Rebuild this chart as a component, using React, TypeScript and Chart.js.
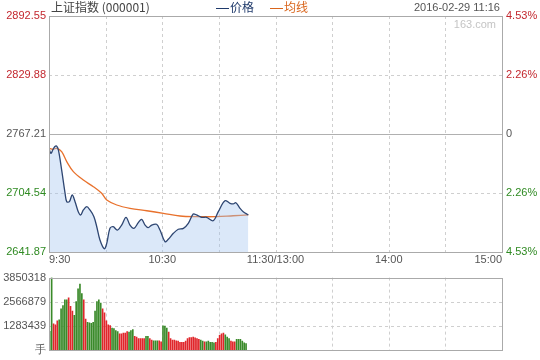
import React, { useEffect, useRef } from 'react';
import { Chart, registerables } from 'chart.js';

Chart.register(...registerables);

// ---- data ----
const PRICE_TICKS = [2641.87, 2704.54, 2767.21, 2829.88, 2892.55];
const PRICE_TICK_COLORS = ['#2f8a22', '#2f8a22', '#555555', '#c3272e', '#c3272e'];
const PCT_LABELS = ['4.53%', '2.26%', '0', '2.26%', '4.53%'];
const PRE_CLOSE = 2767.21;
const GRID_MINUTES = [0, 30, 60, 90, 120, 150, 180, 210, 240];
const TIME_LABEL_MINUTES = [0, 60, 120, 180, 240];
const TIME_LABELS = ['9:30', '10:30', '11:30/13:00', '14:00', '15:00'];

const PRICE_MINUTES = [
  0, 1, 2, 3, 4, 5, 6.7, 8.5, 9.4, 10.8, 12.3, 13.8, 15.5, 16.8, 18.2, 20, 21.7, 23.8,
  25.3, 27, 29.3, 30.6, 32.3, 34, 36.2, 38.5, 40.8, 42.9, 45, 47.3, 49.1, 50.9, 52.6,
  54.4, 57, 58.8, 61.5, 63.2, 65.9, 68.5, 71.2, 73.8, 76.4, 78.2, 80.9, 83.5, 87, 89.7,
  93.2, 95.9, 97.6, 99, 101.2, 102.9, 105.6,
];
const PRICE_VALUES = [
  2752.0, 2746.7, 2750.2, 2753.7, 2754.5, 2750.2, 2729.0, 2704.5, 2695.3, 2695.3, 2702.4,
  2695.3, 2684.7, 2681.2, 2686.5, 2690.0, 2686.5, 2679.4, 2668.7, 2654.6, 2645.3, 2651.1,
  2667.0, 2668.7, 2665.2, 2670.5, 2678.7, 2670.5, 2667.0, 2673.0, 2676.6, 2670.5, 2667.7,
  2670.5, 2671.3, 2665.2, 2652.8, 2655.4, 2661.7, 2666.0, 2667.0, 2672.4, 2682.2, 2681.2,
  2678.7, 2678.7, 2675.1, 2684.7, 2696.4, 2693.6, 2692.9, 2694.2, 2688.3, 2684.7, 2681.2,
];

const AVG_MINUTES = [0, 2, 4.1, 6.7, 9.4, 12.9, 18.2, 23.5, 27.9, 30.6, 35.9, 42.9, 51.8, 60.6, 69.4, 78.2, 88.8, 97.6, 105.6];
const AVG_VALUES = [
  2752.0, 2751.0, 2752.0, 2748.4, 2737.8, 2727.2, 2718.3, 2711.2, 2704.2, 2697.1, 2691.8,
  2688.3, 2685.7, 2683.0, 2680.1, 2679.4, 2679.4, 2680.4, 2681.2,
];

const VOLUME_VALUES = [
  1013000, 3850318, 1402000, 1351000, 1570000, 1621000, 2195000, 2364000, 2668000, 2668000,
  2786000, 2330000, 2077000, 1858000, 2584000, 3259000, 3512000, 3006000, 2668000, 1655000,
  1486000, 1452000, 1435000, 1486000, 2077000, 2584000, 2668000, 2499000, 2195000, 1993000,
  1570000, 1351000, 1317000, 1182000, 1148000,
  1047000, 996000, 878000, 878000, 912000, 912000, 996000, 963000, 1047000, 1098000,
  743000, 709000, 625000, 625000, 625000, 625000, 743000, 743000, 625000, 540000, 507000,
  507000, 507000, 507000, 456000,
  1300000, 1290000, 1180000,
  963000, 625000, 540000, 540000, 507000, 490000, 422000, 422000,
  422000, 490000, 625000, 675000, 675000, 709000, 659000, 625000, 591000, 540000, 490000,
  456000, 456000, 490000, 422000, 422000, 405000, 422000, 625000, 794000, 878000, 912000,
  827000, 709000, 625000, 490000, 456000, 456000, 591000, 591000, 591000, 490000, 405000,
  355000,
];
const VOLUME_DIRS = (
  'ggrrrggggg' + 'rrrgggggrr' + 'ggggggggrr' + 'rrrgg' + 'ggrrrrrggg' + 'rrrrrrggrrgggrr' +
  'ggg' + 'rrrrrrrr' + 'rrrrrrrrrggrgggggrrrrrgggrrrgggggg'
).split('');
const VOLUME_TICKS = [0, 1283439, 2566879, 3850318];
const VOLUME_TICK_LABELS = ['手', '1283439', '2566879', '3850318'];

// ---- styling ----
const RED = '#e0262b';
const GREEN = '#3a8a2a';
const TICK_FONT = { family: '"Liberation Sans", Arial, sans-serif', size: 11 };

function makeGridPlugin(dashedY: number[], solidY: number[]) {
  return {
    id: 'customGrid',
    beforeDatasetsDraw(chart: any) {
      const { ctx, chartArea: a } = chart;
      const xs = chart.scales.x;
      const ys = chart.scales.y;
      ctx.save();
      ctx.lineWidth = 1;
      ctx.strokeStyle = '#cfcfcf';
      ctx.setLineDash([3, 3]);
      ctx.beginPath();
      GRID_MINUTES.forEach((m) => {
        if (m === GRID_MINUTES[0] || m === GRID_MINUTES[GRID_MINUTES.length - 1]) return;
        const px = Math.round(xs.getPixelForValue(m)) + 0.5;
        ctx.moveTo(px, a.top);
        ctx.lineTo(px, a.bottom);
      });
      dashedY.forEach((v) => {
        const py = Math.round(ys.getPixelForValue(v)) + 0.5;
        ctx.moveTo(a.left, py);
        ctx.lineTo(a.right, py);
      });
      ctx.stroke();
      ctx.setLineDash([]);
      ctx.strokeStyle = '#b0b0b0';
      ctx.beginPath();
      solidY.forEach((v) => {
        const py = Math.round(ys.getPixelForValue(v)) + 0.5;
        ctx.moveTo(a.left, py);
        ctx.lineTo(a.right, py);
      });
      ctx.stroke();
      ctx.restore();
    },
    afterDatasetsDraw(chart: any) {
      const { ctx, chartArea: a } = chart;
      ctx.save();
      ctx.lineWidth = 1;
      ctx.strokeStyle = '#aaaaaa';
      const l = Math.round(a.left) + 0.5;
      const t = Math.round(a.top) + 0.5;
      const r = Math.round(a.right) + 0.5;
      const b = Math.round(a.bottom) + 0.5;
      ctx.strokeRect(l, t, r - l, b - t);
      ctx.restore();
    },
  };
}

export default function App() {
  const mainRef = useRef<HTMLCanvasElement>(null);
  const volRef = useRef<HTMLCanvasElement>(null);

  useEffect(() => {
    const priceMin = PRICE_TICKS[0];
    const priceMax = PRICE_TICKS[PRICE_TICKS.length - 1];
    const main = new Chart(mainRef.current as HTMLCanvasElement, {
      type: 'line',
      data: {
        datasets: [
          {
            label: '价格',
            data: PRICE_MINUTES.map((m, i) => ({ x: m, y: PRICE_VALUES[i] })),
            borderColor: '#2e4672',
            borderWidth: 1.3,
            backgroundColor: 'rgba(160,195,240,0.38)',
            fill: 'start',
            pointRadius: 0,
            tension: 0.35,
          },
          {
            label: '均线',
            data: AVG_MINUTES.map((m, i) => ({ x: m, y: AVG_VALUES[i] })),
            borderColor: '#e8712c',
            borderWidth: 1.3,
            fill: false,
            pointRadius: 0,
            tension: 0.35,
          },
        ],
      },
      options: {
        responsive: false,
        animation: false,
        layout: { padding: { top: 16, left: 0, right: 0, bottom: 0 } },
        plugins: { legend: { display: false }, tooltip: { enabled: false } },
        scales: {
          x: {
            type: 'linear',
            min: GRID_MINUTES[0],
            max: GRID_MINUTES[GRID_MINUTES.length - 1],
            grid: { display: false, drawTicks: false },
            border: { display: false },
            afterBuildTicks: (s: any) => {
              s.ticks = GRID_MINUTES.map((v) => ({ value: v }));
            },
            afterFit: (s: any) => {
              s.height = 16;
            },
            ticks: {
              autoSkip: false,
              maxRotation: 0,
              minRotation: 0,
              align: 'inner',
              padding: 1,
              color: '#555555',
              font: TICK_FONT,
              callback: (v: any) => {
                const k = TIME_LABEL_MINUTES.indexOf(Number(v));
                return k >= 0 ? TIME_LABELS[k] : '';
              },
            },
          },
          y: {
            type: 'linear',
            position: 'left',
            min: priceMin,
            max: priceMax,
            grid: { display: false, drawTicks: false },
            border: { display: false },
            afterBuildTicks: (s: any) => {
              s.ticks = PRICE_TICKS.map((v) => ({ value: v }));
            },
            afterFit: (s: any) => {
              s.width = 49;
            },
            ticks: {
              padding: 3,
              font: TICK_FONT,
              color: (c: any) => PRICE_TICK_COLORS[c.index] || '#555',
              callback: (v: any) => Number(v).toFixed(2),
            },
          },
          y2: {
            type: 'linear',
            position: 'right',
            min: priceMin,
            max: priceMax,
            grid: { display: false, drawTicks: false },
            border: { display: false },
            afterBuildTicks: (s: any) => {
              s.ticks = PRICE_TICKS.map((v) => ({ value: v }));
            },
            afterFit: (s: any) => {
              s.width = 38;
            },
            ticks: {
              padding: 4,
              font: TICK_FONT,
              color: (c: any) => PRICE_TICK_COLORS[c.index] || '#555',
              callback: (_v: any, i: number) => PCT_LABELS[i],
            },
          },
        },
      } as any,
      plugins: [makeGridPlugin([PRICE_TICKS[1], PRICE_TICKS[3]], [PRE_CLOSE])],
    });

    const vol = new Chart(volRef.current as HTMLCanvasElement, {
      type: 'bar',
      data: {
        datasets: [
          {
            label: '成交量',
            data: VOLUME_VALUES.map((v, i) => ({ x: i + 0.4, y: v })),
            backgroundColor: VOLUME_DIRS.map((d) => (d === 'r' ? RED : GREEN)),
            barThickness: 1,
            borderWidth: 0,
          },
        ],
      },
      options: {
        responsive: false,
        animation: false,
        layout: { padding: { top: 7, bottom: 9, right: 38, left: 0 } },
        plugins: { legend: { display: false }, tooltip: { enabled: false } },
        scales: {
          x: {
            type: 'linear',
            min: GRID_MINUTES[0],
            max: GRID_MINUTES[GRID_MINUTES.length - 1],
            display: false,
            offset: false,
          },
          y: {
            type: 'linear',
            position: 'left',
            min: VOLUME_TICKS[0],
            max: VOLUME_TICKS[VOLUME_TICKS.length - 1],
            grid: { display: false, drawTicks: false },
            border: { display: false },
            afterBuildTicks: (s: any) => {
              s.ticks = VOLUME_TICKS.map((v) => ({ value: v }));
            },
            afterFit: (s: any) => {
              s.width = 49;
            },
            ticks: {
              padding: 3,
              font: TICK_FONT,
              color: '#555555',
              callback: (_v: any, i: number) => VOLUME_TICK_LABELS[i],
            },
          },
        },
      } as any,
      plugins: [makeGridPlugin([VOLUME_TICKS[1], VOLUME_TICKS[2]], [])],
    });

    return () => {
      main.destroy();
      vol.destroy();
    };
  }, []);

  const cjk = '"Noto Sans CJK SC", sans-serif';
  const latin = '"Liberation Sans", Arial, sans-serif';
  const dash = (color: string) => (
    <span
      style={{
        display: 'inline-block',
        width: 13,
        height: 1,
        background: color,
        verticalAlign: 'middle',
        marginRight: 1,
        marginBottom: 1,
      }}
    />
  );

  return (
    <div
      style={{
        position: 'fixed',
        left: 0,
        top: 0,
        width: 540,
        height: 360,
        background: '#ffffff',
        overflow: 'hidden',
      }}
    >
      <canvas
        ref={mainRef}
        width={540}
        height={268}
        style={{ position: 'absolute', left: 0, top: 0, width: 540, height: 268 }}
      />
      <canvas
        ref={volRef}
        width={540}
        height={92}
        style={{ position: 'absolute', left: 0, top: 268, width: 540, height: 92 }}
      />
      <div
        style={{
          position: 'absolute',
          left: 51,
          top: 0,
          fontFamily: cjk,
          fontSize: 12,
          lineHeight: '14px',
          color: '#444444',
          whiteSpace: 'nowrap',
        }}
      >
        上证指数 (000001)
      </div>
      <div
        style={{
          position: 'absolute',
          left: 216,
          top: 0,
          fontFamily: cjk,
          fontSize: 12,
          lineHeight: '14px',
          color: '#1f3a6b',
          whiteSpace: 'nowrap',
        }}
      >
        {dash('#1f3a6b')}价格
      </div>
      <div
        style={{
          position: 'absolute',
          left: 270,
          top: 0,
          fontFamily: cjk,
          fontSize: 12,
          lineHeight: '14px',
          color: '#d9651c',
          whiteSpace: 'nowrap',
        }}
      >
        {dash('#d9651c')}均线
      </div>
      <div
        style={{
          position: 'absolute',
          right: 40,
          top: 0,
          fontFamily: latin,
          fontSize: 11,
          lineHeight: '14px',
          color: '#555555',
          whiteSpace: 'nowrap',
        }}
      >
        2016-02-29 11:16
      </div>
      <div
        style={{
          position: 'absolute',
          right: 44,
          top: 17,
          fontFamily: latin,
          fontSize: 11,
          lineHeight: '14px',
          color: '#c4c4c4',
          whiteSpace: 'nowrap',
        }}
      >
        163.com
      </div>
    </div>
  );
}
